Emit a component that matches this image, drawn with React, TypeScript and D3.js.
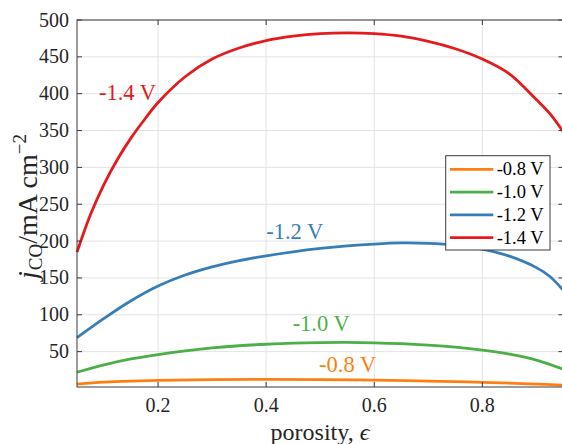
import React from "react";
import * as d3 from "d3";

const seriesNames = ["-0.8 V", "-1.0 V", "-1.2 V", "-1.4 V"];
const seriesColors = ["#ff7f0e", "#4daf4a", "#377eb8", "#e41a1c"];

const x08 = [0.05, 0.1, 0.15, 0.2, 0.3, 0.4, 0.5, 0.6, 0.7, 0.8, 0.9, 0.95];
const y08 = [6, 8.5, 10, 11, 12, 12.3, 12, 11.2, 10, 8.3, 6, 4.5];

const x10 = [0.05, 0.1, 0.15, 0.2, 0.25, 0.3, 0.35, 0.4, 0.45, 0.5, 0.55, 0.6, 0.65, 0.7, 0.75, 0.8, 0.85, 0.9, 0.95];
const y10 = [22, 32, 40, 46, 51, 55, 58, 60, 61.5, 62.3, 62.5, 62, 60.8, 58.8, 56, 52, 46.5, 38.5, 26];

const x12 = [0.05, 0.1, 0.15, 0.2, 0.25, 0.3, 0.35, 0.4, 0.45, 0.5, 0.55, 0.6, 0.65, 0.7, 0.75, 0.8, 0.85, 0.9, 0.925, 0.95];
const y12 = [69, 95, 119, 139, 154, 165, 173.5, 180, 185.5, 190, 193.5, 196, 197.5, 197, 194.5, 189, 179.5, 164, 152, 133];

const x14 = [0.05, 0.075, 0.1, 0.125, 0.15, 0.175, 0.2, 0.25, 0.3, 0.35, 0.4, 0.45, 0.5, 0.55, 0.6, 0.65, 0.7, 0.75, 0.8, 0.85, 0.9, 0.925, 0.95];
const y14 = [185, 236, 277, 311, 340, 365, 388, 423, 447, 462, 472, 478, 481.5, 482.5, 481.5, 478, 471, 461, 447, 427, 392, 373, 348];

const xTicks = [0.2, 0.4, 0.6, 0.8];
const yTicks = [50, 100, 150, 200, 250, 300, 350, 400, 450, 500];

const labelPos: [number, number][] = [
  [0.498, 22.4],
  [0.449, 78],
  [0.40, 202.8],
  [0.0907, 391.4],
];

const xs = [x08, x10, x12, x14];
const ys = [y08, y10, y12, y14];

export default function App() {
  const W = 562, H = 444;
  const L = 77, R = 563.4, T = 20, B = 387;
  const x = d3.scaleLinear().domain([0.05, 0.95]).range([L, R]);
  const y = d3.scaleLinear().domain([2, 500]).range([B, T]);
  const line = d3
    .line<[number, number]>()
    .x((d) => x(d[0]))
    .y((d) => y(d[1]))
    .curve(d3.curveCatmullRom.alpha(0.5));
  const font = "'Liberation Serif', 'Times New Roman', serif";
  const axisColor = "#3a3a3a";
  const gridColor = "#e3e3e3";
  const tickLen = 5;

  const legX = 445.7, legY = 155.7, legW = 104.3, legH = 94.3;
  const rowY = [169.3, 192.1, 214.8, 237.6];

  return (
    <svg
      width={W}
      height={H}
      style={{ position: "absolute", left: 0, top: 0, background: "#fff" }}
      fontFamily={font}
    >
      <rect x={0} y={0} width={W} height={H} fill="#fff" />
      {xTicks.map((t) => (
        <line key={"gx" + t} x1={x(t)} x2={x(t)} y1={T} y2={B} stroke={gridColor} strokeWidth={1} />
      ))}
      {yTicks.map((t) => (
        <line key={"gy" + t} x1={L} x2={R} y1={y(t)} y2={y(t)} stroke={gridColor} strokeWidth={1} />
      ))}
      {xs.map((xv, i) => (
        <path
          key={"s" + i}
          d={line(xv.map((v, j) => [v, ys[i][j]] as [number, number])) || ""}
          fill="none"
          stroke={seriesColors[i]}
          strokeWidth={2.8}
          strokeLinejoin="round"
        />
      ))}
      <rect x={L} y={T} width={R - L} height={B - T} fill="none" stroke={axisColor} strokeWidth={1} />
      {xTicks.map((t) => (
        <g key={"tx" + t}>
          <line x1={x(t)} x2={x(t)} y1={B} y2={B - tickLen} stroke={axisColor} />
          <line x1={x(t)} x2={x(t)} y1={T} y2={T + tickLen} stroke={axisColor} />
          <text x={x(t)} y={B + 25} textAnchor="middle" fontSize={20} fill="#262626">
            {t.toFixed(1)}
          </text>
        </g>
      ))}
      {yTicks.map((t) => (
        <g key={"ty" + t}>
          <line x1={L} x2={L + tickLen} y1={y(t)} y2={y(t)} stroke={axisColor} />
          <line x1={R} x2={R - tickLen} y1={y(t)} y2={y(t)} stroke={axisColor} />
          <text x={L - 8} y={y(t) + 6.5} textAnchor="end" fontSize={20} fill="#262626">
            {t}
          </text>
        </g>
      ))}
      <text x={320} y={440} textAnchor="middle" fontSize={24} fill="#262626">
        porosity, <tspan fontStyle="italic">ϵ</tspan>
      </text>
      <text transform={`translate(37,${(T + B) / 2 + 3}) rotate(-90)`} textAnchor="middle" fontSize={28} fill="#262626">
        <tspan fontStyle="italic">j</tspan>
        <tspan fontSize={19} dy={5} dx={1}>CO</tspan>
        <tspan dy={-5}>/mA cm</tspan>
        <tspan fontSize={19} dy={-11}>−2</tspan>
      </text>
      {labelPos.map((p, i) => (
        <text key={"lab" + i} x={x(p[0])} y={y(p[1])} fontSize={22.5} fill={seriesColors[i]}>
          {seriesNames[i]}
        </text>
      ))}
      <rect x={legX} y={legY} width={legW} height={legH} fill="#fff" stroke={axisColor} strokeWidth={1} />
      {seriesNames.map((n, i) => (
        <g key={"leg" + i}>
          <line x1={450} x2={493.3} y1={rowY[i]} y2={rowY[i]} stroke={seriesColors[i]} strokeWidth={2.8} />
          <text x={496.7} y={rowY[i] + 6} fontSize={18.5} fill="#000">
            {n}
          </text>
        </g>
      ))}
    </svg>
  );
}
